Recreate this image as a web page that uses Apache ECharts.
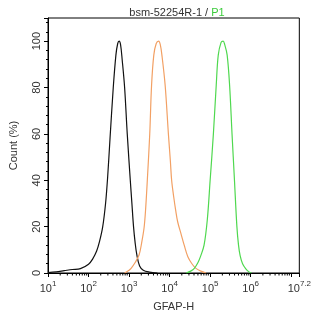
<!DOCTYPE html>
<html>
<head>
<meta charset="utf-8">
<script src="https://cdn.jsdelivr.net/npm/echarts@6/dist/echarts.min.js"></script>
<style>
  html, body { margin: 0; padding: 0; background: #fff; }
  #chart { width: 314px; height: 317px; }
</style>
</head>
<body>
<div id="chart"></div>
<script>
// x values are log10 of GFAP-H intensity, y values are Count (%)
const blackLog = [1.0, 1.2, 1.4, 1.6, 1.8, 2.0, 2.1, 2.2, 2.27, 2.35, 2.42, 2.47, 2.53, 2.61, 2.675, 2.72, 2.755, 2.79, 2.83, 2.89, 2.955, 3.03, 3.07, 3.11, 3.15, 3.19, 3.26, 3.35, 3.5, 3.7];
const blackPct = [0.2, 0.5, 1.0, 1.5, 1.9, 3.8, 6.0, 9.5, 13.5, 20, 30, 41, 58, 80, 94, 99, 100, 98.5, 92, 80, 60, 40, 30, 20, 13, 8, 3, 1.2, 0.4, 0];

const orangeLog = [2.89, 3.0, 3.05, 3.15, 3.25, 3.31, 3.37, 3.41, 3.45, 3.51, 3.555, 3.61, 3.67, 3.73, 3.77, 3.81, 3.89, 3.97, 4.02, 4.05, 4.1, 4.15, 4.2, 4.28, 4.36, 4.45, 4.55, 4.65, 4.77, 4.9];
const orangePct = [0, 1.2, 2, 4.5, 8, 13, 19.5, 28, 40, 60, 81, 94, 99, 100, 98.5, 94, 81, 60, 48, 40, 33, 27, 22, 17, 12, 7, 4, 2, 0.8, 0];

const greenLog = [4.41, 4.52, 4.61, 4.7, 4.77, 4.85, 4.93, 5.0, 5.08, 5.15, 5.2, 5.27, 5.32, 5.36, 5.42, 5.48, 5.54, 5.6, 5.66, 5.7, 5.74, 5.8, 5.88, 5.95, 6.02];
const greenPct = [0, 0.8, 2, 4.5, 7.5, 12, 23, 40, 60, 81, 94, 99.5, 100, 98.5, 94, 81, 60, 40, 20, 12, 7.5, 4, 1.8, 0.6, 0];

const xDecades = [1, 2, 3, 4, 5, 6, 7];
const xMax = 7.2;

// log minor tick positions (2..9 within each decade)
const minorTicks = [];
xDecades.forEach(function (d) {
  for (let k = 2; k <= 9; k++) {
    const v = d + Math.log10(k);
    if (v < xMax) minorTicks.push([v, 0]);
  }
});

function pairs(xs, ys) {
  return xs.map(function (x, i) { return [x, ys[i]]; });
}

const chart = echarts.init(document.getElementById('chart'));
const font = 'Liberation Sans, Arial, sans-serif';

chart.setOption({
  animation: false,
  title: {
    text: '{a|bsm-52254R-1 / }{g|P1}',
    left: 172,
    textAlign: 'center',
    top: 2,
    textStyle: {
      fontWeight: 'normal',
      rich: {
        a: { fontSize: 11, color: '#333', fontFamily: font, fontWeight: 'normal' },
        g: { fontSize: 11, color: '#3ccc3c', fontFamily: font, fontWeight: 'normal' }
      }
    }
  },
  grid: {
    left: 43, right: 13, top: 18, bottom: 42,
    show: true, borderColor: '#000', borderWidth: 1, backgroundColor: 'transparent'
  },
  xAxis: {
    type: 'value',
    min: 1, max: xMax, interval: 1,
    name: 'GFAP-H', nameLocation: 'middle', nameGap: 28,
    nameTextStyle: { fontSize: 11, color: '#333', fontFamily: font },
    axisLine: { lineStyle: { color: '#000', width: 1 } },
    axisTick: { length: 4, lineStyle: { color: '#000' } },
    splitLine: { show: false },
    axisLabel: {
      showMaxLabel: true,
      margin: 7,
      formatter: function (v) {
        if (Math.abs(v - 7) < 1e-6) return '';
        const e = Math.round(v * 10) / 10;
        return '{b|10}{s|' + e + '}';
      },
      rich: {
        b: { fontSize: 11, color: '#333', fontFamily: font, verticalAlign: 'bottom', lineHeight: 14 },
        s: { fontSize: 8, color: '#333', fontFamily: font, verticalAlign: 'top', lineHeight: 14, padding: [0, 0, 6, 0] }
      }
    }
  },
  yAxis: {
    type: 'value',
    min: 0, max: 110, interval: 20,
    name: 'Count (%)', nameLocation: 'middle', nameGap: 29, nameRotate: 90,
    nameTextStyle: { fontSize: 11, color: '#333', fontFamily: font },
    axisLine: { show: true, lineStyle: { color: '#000', width: 1 } },
    axisTick: { show: true, length: 4, lineStyle: { color: '#000' } },
    minorTick: { show: true, splitNumber: 5, length: 2, lineStyle: { color: '#000' } },
    splitLine: { show: false },
    axisLabel: {
      rotate: 90, margin: 6, fontSize: 11, color: '#333', fontFamily: font,
      formatter: function (v) { return v > 100 ? '' : String(v); }
    }
  },
  series: [
    {
      type: 'custom',
      data: minorTicks,
      clip: false,
      silent: true,
      renderItem: function (params, api) {
        const p = api.coord([api.value(0), 0]);
        return {
          type: 'line',
          shape: { x1: p[0], y1: p[1], x2: p[0], y2: p[1] + 2.5 },
          style: { stroke: '#000', lineWidth: 1 }
        };
      }
    },
    {
      type: 'line', data: pairs(blackLog, blackPct), smooth: 0.35, showSymbol: false,
      lineStyle: { color: '#111', width: 1.2 }
    },
    {
      type: 'line', data: pairs(orangeLog, orangePct), smooth: 0.35, showSymbol: false,
      lineStyle: { color: '#f2a064', width: 1.2 }
    },
    {
      type: 'line', data: pairs(greenLog, greenPct), smooth: 0.35, showSymbol: false,
      lineStyle: { color: '#4fd84f', width: 1.2 }
    }
  ]
});
</script>
</body>
</html>
